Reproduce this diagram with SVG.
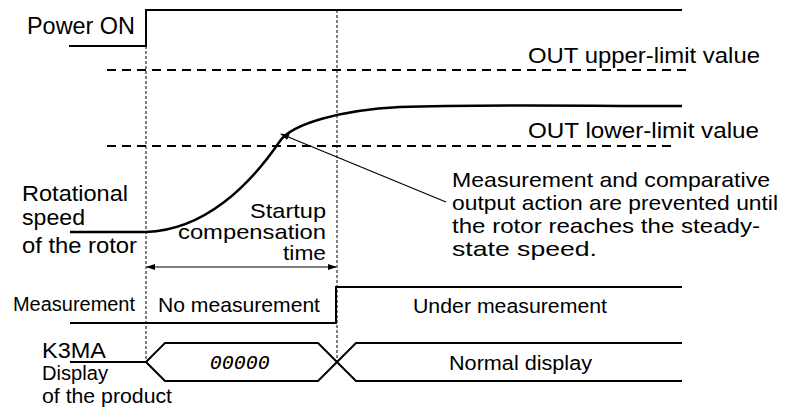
<svg xmlns="http://www.w3.org/2000/svg" width="802" height="410" viewBox="0 0 802 410">
<style>
text{font-family:"Liberation Sans",Arial,sans-serif;fill:#000}
.sig{fill:none;stroke:#000;stroke-width:2}
.dash{fill:none;stroke:#000;stroke-width:1.8;stroke-dasharray:9 6}
.dot{fill:none;stroke:#000;stroke-width:1;stroke-dasharray:3 2}
.thin{fill:none;stroke:#000;stroke-width:1.2}
.t22{font-size:22px}
.t21{font-size:21px}
.t20{font-size:20px}
</style>
<defs>
<marker id="ah" viewBox="0 0 10 10" refX="9" refY="5" markerWidth="9" markerHeight="9" markerUnits="userSpaceOnUse" orient="auto-start-reverse">
<path d="M0,1.5 L10,5 L0,8.5 Z" fill="#000"/>
</marker>
</defs>
<rect width="802" height="410" fill="#fff"/>

<g id="power">
<path class="sig" d="M69,46 H146 V10 H682"/>
<text x="27" y="34" textLength="108" lengthAdjust="spacingAndGlyphs" style="font-size:23px">Power ON</text>
</g>

<g id="limits">
<line class="dash" x1="107" y1="70" x2="688" y2="70"/>
<text class="t22" x="528" y="63" textLength="232" lengthAdjust="spacingAndGlyphs">OUT upper-limit value</text>
<line class="dash" x1="107" y1="146" x2="677" y2="146"/>
<text class="t22" x="528" y="138" textLength="231" lengthAdjust="spacingAndGlyphs">OUT lower-limit value</text>
</g>

<g id="speed">
<path class="sig" style="stroke-width:2.5" d="M70,232 H146 C205,230 250,185 280,141 C292,124 340,110 400,107 C480,104 580,106 682,106"/>
<text class="t22" x="22" y="201" textLength="106" lengthAdjust="spacingAndGlyphs">Rotational</text>
<text class="t22" x="22" y="225" textLength="63" lengthAdjust="spacingAndGlyphs">speed</text>
<text class="t22" x="22" y="253" textLength="115" lengthAdjust="spacingAndGlyphs">of the rotor</text>
</g>

<g id="startup">
<text class="t21" x="250" y="218" textLength="76" lengthAdjust="spacingAndGlyphs">Startup</text>
<text class="t21" x="178" y="239" textLength="148" lengthAdjust="spacingAndGlyphs">compensation</text>
<text class="t21" x="283" y="260" textLength="43" lengthAdjust="spacingAndGlyphs">time</text>
</g>

<g id="note">
<text class="t21" x="452" y="187" textLength="318" lengthAdjust="spacingAndGlyphs">Measurement and comparative</text>
<text class="t21" x="452" y="210" textLength="326" lengthAdjust="spacingAndGlyphs">output action are prevented until</text>
<text class="t21" x="452" y="233" textLength="308" lengthAdjust="spacingAndGlyphs">the rotor reaches the steady-</text>
<text class="t21" x="452" y="256" textLength="145" lengthAdjust="spacingAndGlyphs">state speed.</text>
</g>

<g id="measurement">
<path class="sig" d="M70,323 H336 V287 H682"/>
<text class="t20" x="13" y="311" textLength="122" lengthAdjust="spacingAndGlyphs">Measurement</text>
<text class="t21" x="158" y="312" textLength="162" lengthAdjust="spacingAndGlyphs">No measurement</text>
<text class="t20" x="413" y="313" textLength="194" lengthAdjust="spacingAndGlyphs">Under measurement</text>
</g>

<g id="display">
<path class="sig" d="M70,362 H146 L165,343 H318 L356,381 H682"/>
<path class="sig" d="M146,362 L165,381 H318 L356,343 H682"/>
<text class="t22" x="42" y="358" textLength="64" lengthAdjust="spacingAndGlyphs">K3MA</text>
<text class="t20" x="42" y="380" textLength="66" lengthAdjust="spacingAndGlyphs">Display</text>
<text class="t20" x="42" y="403" textLength="130" lengthAdjust="spacingAndGlyphs">of the product</text>
<text x="210" y="369" textLength="60" lengthAdjust="spacingAndGlyphs" style="font-family:'DejaVu Sans Mono','Liberation Mono',monospace;font-size:17px;font-style:italic">00000</text>
<text class="t20" x="449" y="370" textLength="143" lengthAdjust="spacingAndGlyphs">Normal display</text>
</g>

<g id="connectors">
<line class="dot" x1="146" y1="46" x2="146" y2="362"/>
<line class="dot" x1="337" y1="10" x2="337" y2="362"/>
<line class="thin" x1="446" y1="202" x2="281" y2="134" marker-end="url(#ah)"/>
<line class="thin" x1="147" y1="267" x2="336" y2="267" marker-start="url(#ah)" marker-end="url(#ah)"/>
</g>
</svg>
